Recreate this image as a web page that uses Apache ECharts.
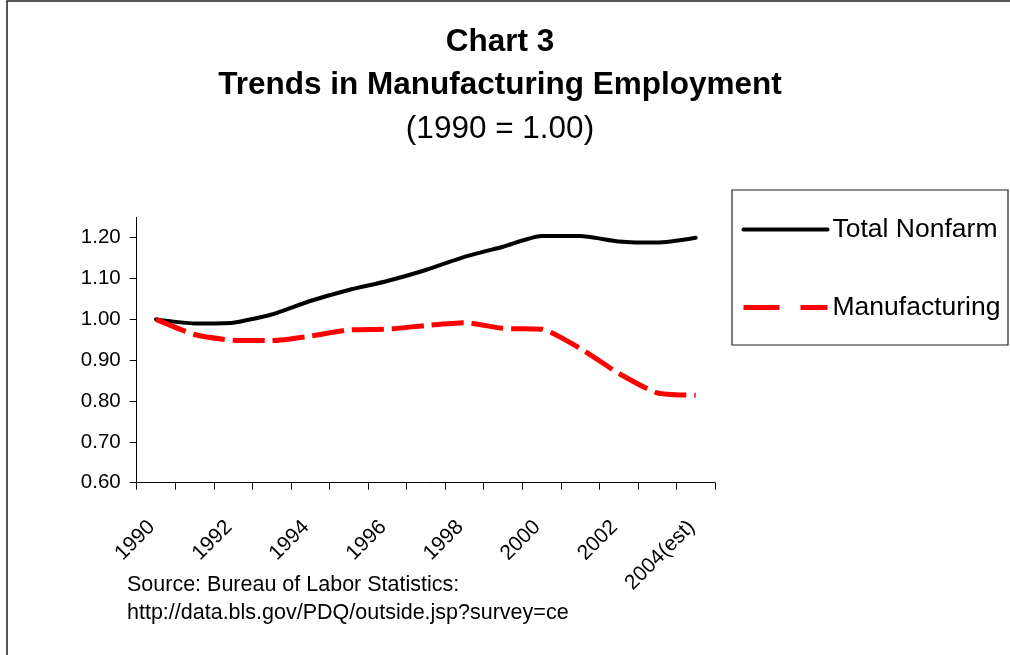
<!DOCTYPE html>
<html>
<head>
<meta charset="utf-8">
<script src="https://cdn.jsdelivr.net/npm/echarts@6/dist/echarts.min.js"></script>
<style>
html,body{margin:0;padding:0;background:#fff;}
#chart{width:1010px;height:655px;}
</style>
</head>
<body>
<div id="chart"></div>
<script>
const years = ['1990','1991','1992','1993','1994','1995','1996','1997','1998','1999','2000','2001','2002','2003','2004(est)'];
const totalNonfarm = [1.000,0.990,0.992,1.012,1.045,1.072,1.094,1.121,1.153,1.178,1.204,1.204,1.191,1.188,1.200];
const manufacturing = [1.000,0.963,0.949,0.948,0.959,0.974,0.976,0.985,0.992,0.978,0.976,0.929,0.868,0.820,0.814];
const yTicks = [0.6,0.7,0.8,0.9,1.0,1.1,1.2];
const titleLines = ['Chart 3','Trends in Manufacturing Employment','(1990 = 1.00)'];
const sourceLines = ['Source: Bureau of Labor Statistics:','http://data.bls.gov/PDQ/outside.jsp?survey=ce'];

const FONT = '"Liberation Sans", Arial, sans-serif';
const chart = echarts.init(document.getElementById('chart'), null, {renderer:'canvas'});

const option = {
  backgroundColor:'#fff',
  animation:false,
  textStyle:{fontFamily:FONT},
  grid:{left:136.7, right:295, top:217.3, bottom:172.3, containLabel:false},
  xAxis:{
    type:'category',
    data:years,
    boundaryGap:true,
    axisLine:{lineStyle:{color:'#000',width:1}},
    axisTick:{show:true,interval:0,length:7,alignWithLabel:false,lineStyle:{color:'#000'}},
    axisLabel:{interval:1,rotate:45,margin:37,fontSize:21,color:'#000',fontFamily:FONT,padding:[0,6,0,0]},
    splitLine:{show:false}
  },
  yAxis:{
    type:'value',
    min:0.6,
    max:1.25,
    interval:0.1,
    axisLine:{show:true,lineStyle:{color:'#000',width:1}},
    axisTick:{show:true,length:7,customValues:yTicks,lineStyle:{color:'#000'}},
    axisLabel:{margin:16,fontSize:20.5,color:'#000',fontFamily:FONT,customValues:yTicks,
      formatter:v=>Number(v).toFixed(2)},
    splitLine:{show:false}
  },
  legend:{
    orient:'vertical',
    left:741,
    top:216,
    padding:0,
    itemWidth:84,
    itemHeight:26,
    itemGap:51,
    textStyle:{fontSize:26.5,color:'#000',fontFamily:FONT},
    itemStyle:{opacity:0},
    data:[
      {name:'Total Nonfarm',itemStyle:{opacity:0},lineStyle:{color:'#000',width:4,type:'solid'}},
      {name:'Manufacturing',itemStyle:{opacity:0},lineStyle:{color:'#ff0000',width:5,type:[36,21]}}
    ]
  },
  series:[
    {name:'Total Nonfarm',type:'line',data:totalNonfarm,symbol:'none',smooth:0.2,
      lineStyle:{color:'#000',width:4,cap:'round',join:'round'},itemStyle:{color:'#000'}},
    {name:'Manufacturing',type:'line',data:manufacturing,symbol:'none',smooth:0.2,
      lineStyle:{color:'#ff0000',width:5,type:[32,8],join:'round'},itemStyle:{color:'#ff0000'}}
  ],
  graphic:[
    {type:'polyline',silent:true,shape:{points:[[7,700],[7,1],[1100,1]]},
      style:{fill:null,stroke:'#222',lineWidth:1.5}},
    {type:'rect',silent:true,shape:{x:732,y:190,width:276,height:155},
      style:{fill:null,stroke:'#222',lineWidth:1.2}},
    {type:'text',x:500,y:42,style:{text:titleLines[0],font:'bold 31.5px '+FONT,fill:'#000',textAlign:'center',textVerticalAlign:'middle'}},
    {type:'text',x:500,y:85,style:{text:titleLines[1],font:'bold 31.5px '+FONT,fill:'#000',textAlign:'center',textVerticalAlign:'middle'}},
    {type:'text',x:500,y:129,style:{text:titleLines[2],font:'31.5px '+FONT,fill:'#000',textAlign:'center',textVerticalAlign:'middle'}},
    {type:'text',x:127,y:585,style:{text:sourceLines[0],font:'21.5px '+FONT,fill:'#000',textAlign:'left',textVerticalAlign:'middle'}},
    {type:'text',x:127,y:613,style:{text:sourceLines[1],font:'21.5px '+FONT,fill:'#000',textAlign:'left',textVerticalAlign:'middle'}}
  ]
};
chart.setOption(option);
</script>
</body>
</html>
